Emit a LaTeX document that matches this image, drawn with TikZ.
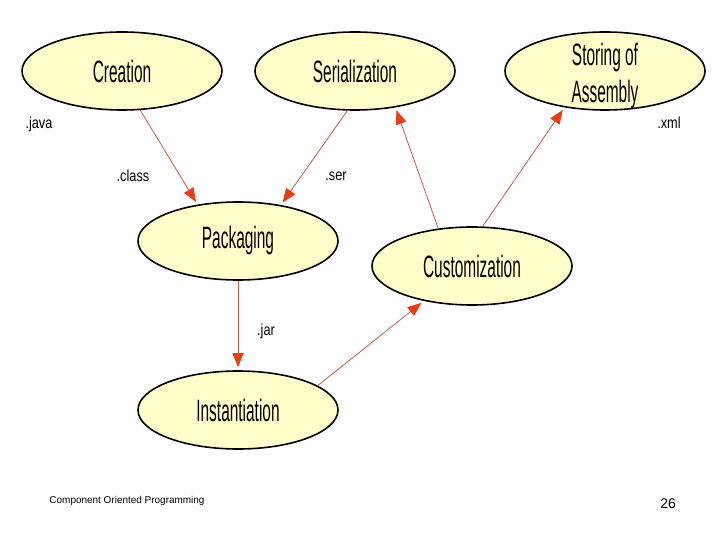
\documentclass[tikz,border=0pt]{standalone}
\usepackage{fontspec}
\usepackage{tikz}
\usetikzlibrary{
  arrows.meta,
  shapes.geometric
}
\setmainfont{Liberation Sans}
\newfontfamily\narrowsans{Liberation Sans}[FakeStretch=0.5]
\newfontfamily\labelsans{Liberation Sans}[FakeStretch=0.8]
\definecolor{paleyellow}{RGB}{255,255,204}
\definecolor{wirebrown}{RGB}{185,95,75}
\definecolor{tipred}{RGB}{230,62,22}

\begin{document}
\begin{tikzpicture}[x=1bp, y=-1bp,
  stage/.style={ellipse, draw=black, line width=1.6bp, fill=paleyellow,
    minimum width=200bp, minimum height=78bp, inner sep=0pt,
    font=\narrowsans\fontsize{31}{37}\selectfont},
  stagetext/.style={align=center, inner sep=0pt, yshift=-5bp,
    font=\narrowsans\fontsize{31}{37}\selectfont},
  flow/.style={wirebrown, line width=0.8bp, shorten >=3bp,
    -{Triangle[length=14bp, width=11bp, color=tipred]}},
  ext/.style={font=\labelsans\fontsize{16}{19}\selectfont}]
  \useasboundingbox (0,0) rectangle (720,540);
  % top row
  \node[stage] (crea) at (122,71) {Creation};
  \node[stage] (seri) at (355,71) {Serialization};
  \node[stage, label={[stagetext]center:Storing of\\Assembly}] (stor) at (605,71) {};
  % middle and bottom
  \node[stage] (pack) at (238,241) {Packaging};
  \node[stage] (cust) at (472,266) {Customization};
  \node[stage] (inst) at (238,410) {Instantiation};
  % file types
  \node[ext] (java) at (39,124) {.java};
  \node[ext] (class) at (133,176) {.class};
  \node[ext] (ser) at (336,176) {.ser};
  \node[ext] (xml) at (669,123) {.xml};
  \node[ext] (jar) at (266,331) {.jar};
  % arrows
  \draw[flow] (crea.-65) -- (pack.138);
  \draw[flow] (seri.-101) -- (pack.40);
  \draw[flow] (pack.south) -- (inst.north);
  \draw[flow] (inst.17) -- (cust.-144);
  \draw[flow] (cust.132) -- (seri.-42);
  \draw[flow] (cust.75) -- (stor.-138);
  % footer
  \node[font=\fontsize{10}{12}\selectfont] (foot) at (127,501) {Component Oriented Programming};
  \node[font=\fontsize{14}{16}\selectfont] (page) at (668,504) {26};
\end{tikzpicture}
\end{document}
